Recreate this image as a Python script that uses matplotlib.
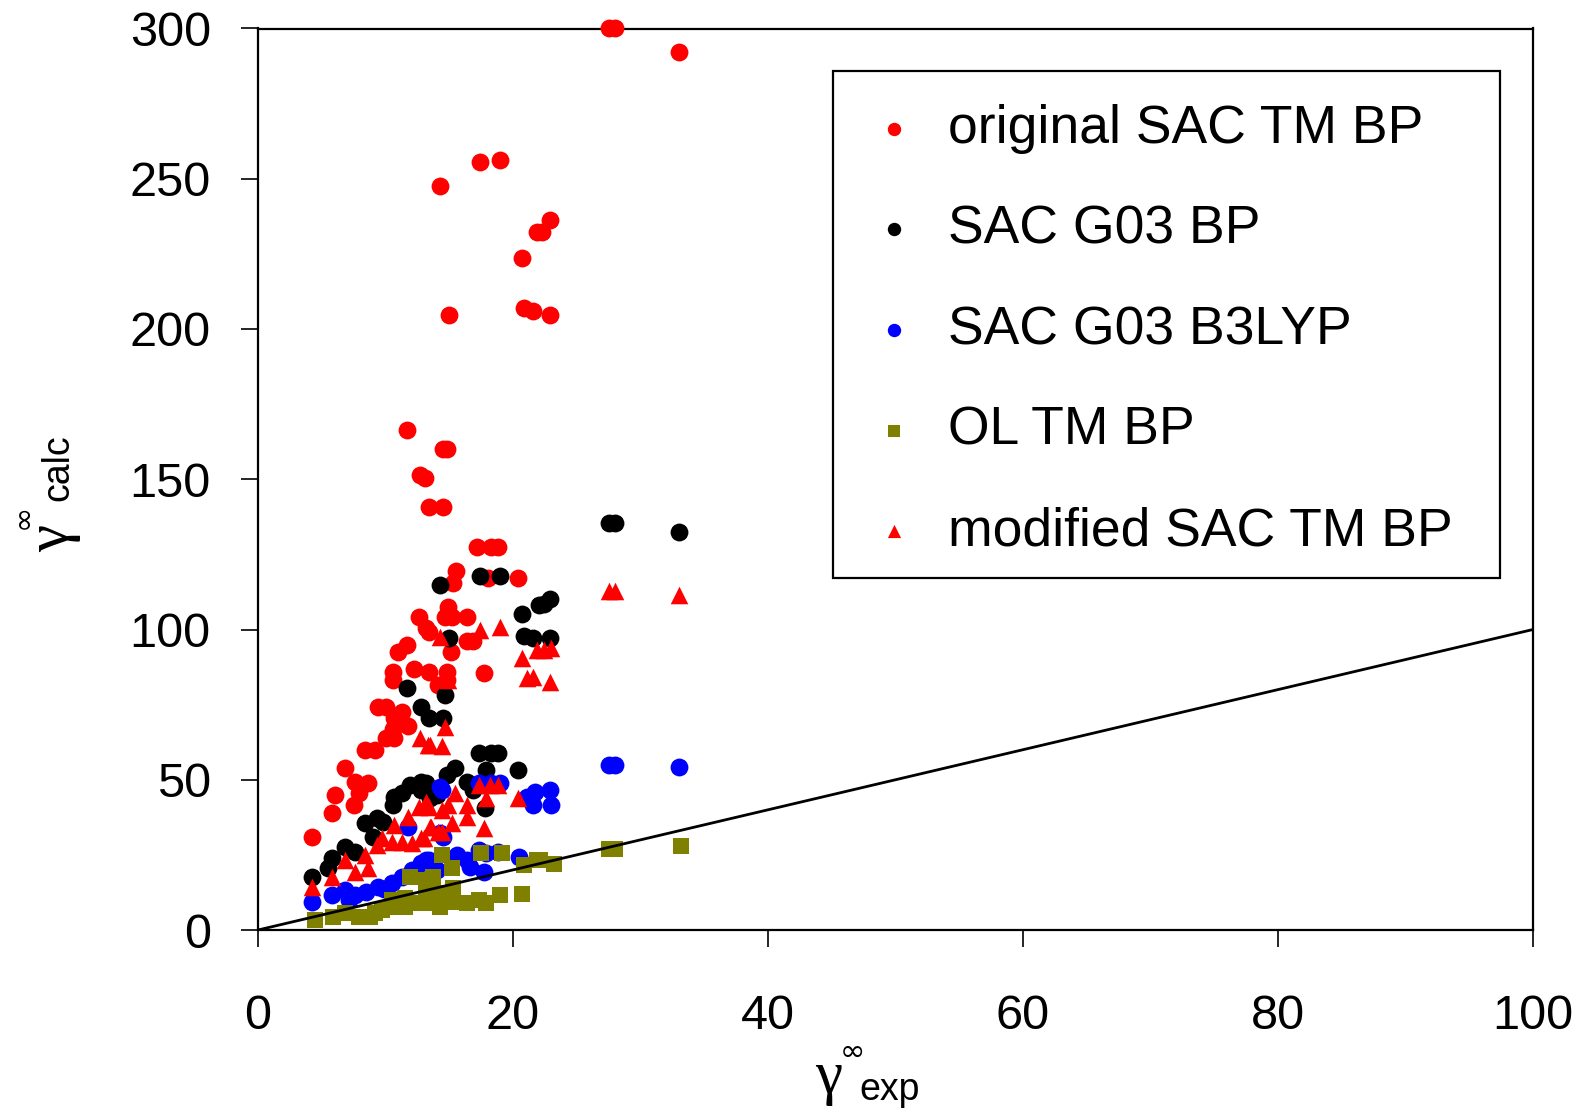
import matplotlib
matplotlib.use("Agg")
import matplotlib.pyplot as plt
from matplotlib.patches import Rectangle

plt.rcParams['font.family'] = ['Liberation Sans', 'DejaVu Sans']

# original SAC TM BP (red circles)
orig_x = [27.5, 28.0, 33.0, 17.4, 19.0, 14.3, 22.9, 21.9, 22.3, 20.7, 15.0, 20.9, 21.6, 22.9,
          11.7, 14.5, 14.8, 12.7, 13.1, 13.4, 14.5, 17.2, 18.3, 18.8, 15.5, 15.3, 18.0, 20.4,
          12.6, 14.9, 14.7, 15.2, 16.4, 13.2, 13.4, 16.4, 16.9, 15.1, 11.0, 11.7,
          10.6, 10.6, 12.2, 13.4, 14.8, 14.8, 17.7, 14.1, 9.4, 10.0, 11.3, 10.7, 11.8, 10.6,
          10.0, 10.7, 8.4, 9.2, 6.8, 7.6, 8.6, 7.9, 6.0, 7.5, 5.8, 4.2]
orig_y = [300, 300, 292.1, 255.5, 256.2, 247.5, 236.4, 232.4, 232.4, 223.7, 204.5, 206.9, 206.0, 204.5,
          166.4, 160.1, 160.1, 151.4, 150.3, 140.9, 140.9, 127.3, 127.3, 127.3, 119.6, 115.4, 117.0, 117.0,
          104.3, 107.6, 104.3, 104.3, 104.3, 100.6, 99.3, 96.3, 96.3, 92.4, 92.6, 94.8,
          86.0, 83.2, 86.7, 86.0, 86.0, 83.2, 85.4, 81.5, 74.3, 74.3, 72.7, 70.4, 67.9, 66.8,
          63.8, 63.8, 59.9, 59.9, 53.8, 49.4, 48.8, 45.5, 44.9, 41.6, 38.8, 31.1]

# SAC G03 BP (black circles)
g03bp_x = [27.5, 28.0, 33.0, 17.4, 19.0, 14.3, 22.9, 22.0, 22.4, 20.7, 20.9, 21.6, 22.9, 15.0,
           11.7, 14.7, 12.8, 13.4, 14.5,
           17.3, 18.3, 18.8, 17.9, 20.4, 15.45, 14.8, 16.4, 16.9, 13.2, 17.8, 13.5, 14.0,
           12.8, 11.9, 11.3, 10.7, 10.6, 12.8,
           8.4, 9.3, 9.8, 9.0, 7.6, 6.8, 5.8, 5.5, 4.2]
g03bp_y = [135.3, 135.3, 132.3, 117.9, 117.9, 114.8, 110.0, 108.2, 108.5, 105.0, 97.8, 97.3, 97.3, 97.1,
           80.4, 78.2, 74.3, 70.4, 70.4,
           58.8, 58.8, 58.8, 53.2, 53.2, 53.8, 51.6, 49.4, 46.6, 48.8, 40.5, 43.8, 44.9,
           49.4, 48.3, 45.5, 44.4, 41.6, 46.6,
           35.5, 37.2, 36.0, 31.1, 26.1, 27.7, 23.9, 20.5, 17.7]

# SAC G03 B3LYP (blue circles)
g03b3_x = [27.5, 28.0, 33.0, 14.3, 19.0, 17.3, 18.3, 21.1, 21.7, 22.9, 23.0, 21.6, 14.5,
           13.2, 13.7, 15.6, 16.4, 17.3, 17.9, 18.8, 17.7, 20.5, 16.6,
           4.2, 5.8, 6.8, 7.6, 8.5, 9.4, 10.5, 11.3, 12.1, 12.8, 13.4, 11.8, 14.3, 14.4,
           14.0, 7.1, 9.9]
g03b3_y = [54.9, 54.9, 54.1, 47.7, 48.8, 49.0, 49.0, 44.4, 46.0, 46.6, 41.6, 41.6, 31.0,
           23.3, 21.6, 25.0, 23.3, 26.6, 25.5, 26.0, 19.4, 24.4, 21.1,
           9.4, 11.6, 13.3, 11.6, 12.7, 14.4, 15.5, 17.7, 20.0, 22.2, 23.3, 34.4, 32.2, 46.6,
           20.0, 10.0, 13.5]

# OL TM BP (olive squares)
ol_x = [27.5, 28.0, 33.2, 21.9, 23.2, 20.9, 20.7, 14.4, 17.5, 19.1, 15.2, 13.75, 13.2, 22.1,
        13.2, 14.3, 15.3, 16.4, 17.3, 17.9, 19.0, 13.2, 15.3,
        4.5, 5.9, 6.8, 7.9, 8.8, 9.7, 10.7, 11.5, 12.6, 13.6, 14.4, 11.9, 10.5, 11.5, 9.2]
ol_y = [26.9, 26.9, 27.9, 23.3, 21.8, 21.6, 12.0, 25.0, 25.5, 25.5, 20.5, 17.7, 16.6, 23.3,
        8.9, 7.8, 9.4, 8.9, 10.0, 8.9, 11.6, 12.7, 13.9,
        3.3, 4.4, 5.5, 4.4, 4.4, 6.7, 7.8, 7.8, 8.9, 10.5, 12.2, 17.7, 10.0, 10.5, 5.5]

# modified SAC TM BP (red triangles)
mod_x = [27.5, 28.0, 33.0, 21.9, 22.4, 23.0, 20.7, 14.3, 17.4, 19.0, 21.1, 21.6, 22.9, 14.9,
         14.7, 12.7, 13.3, 14.4, 13.5,
         17.3, 18.2, 18.8, 17.9, 20.4, 15.45, 14.9, 16.4, 16.4, 15.2, 14.4, 13.5, 17.7, 13.0, 13.2,
         4.2, 5.8, 6.8, 7.6, 8.4, 8.65, 9.3, 9.7, 10.5, 11.3, 10.7, 11.8, 12.6, 13.4, 12.05,
         12.8, 13.6, 14.1, 14.4]
mod_y = [112.9, 112.9, 111.5, 93.2, 93.2, 93.7, 90.4, 97.6, 100.0, 100.9, 83.8, 84.3, 82.6, 83.2,
         67.7, 63.8, 61.6, 61.2, 61.6,
         48.3, 48.3, 48.3, 43.8, 43.8, 45.5, 41.6, 41.6, 37.7, 35.5, 32.7, 34.4, 33.8, 30.5, 42.7,
         14.4, 17.7, 23.3, 19.4, 25.0, 20.5, 28.3, 30.5, 29.4, 29.4, 34.9, 37.7, 41.0, 41.0, 28.8,
         30.5, 34.4, 32.7, 39.9]

W, H = 1585, 1114
fig = plt.figure(figsize=(W / 100, H / 100), dpi=100)
ax = fig.add_axes([258 / W, 1 - 930 / H, (1533 - 258) / W, (930 - 28.5) / H])

ax.scatter(orig_x, orig_y, s=165, marker='o', color='#ff0000', linewidths=0,
           label='original SAC TM BP', clip_on=False, zorder=3)
ax.scatter(g03bp_x, g03bp_y, s=165, marker='o', color='black', linewidths=0,
           label='SAC G03 BP', clip_on=False, zorder=3)
ax.scatter(g03b3_x, g03b3_y, s=165, marker='o', color='#0000ff', linewidths=0,
           label='SAC G03 B3LYP', clip_on=False, zorder=3)
ax.scatter(ol_x, ol_y, s=125, marker='s', color='#808000', linewidths=0,
           label='OL TM BP', clip_on=False, zorder=3)
ax.scatter(mod_x, mod_y, s=160, marker='^', color='#ff0000', linewidths=0,
           label='modified SAC TM BP', clip_on=False, zorder=3)

# parity line
ax.plot([0, 100], [0, 100], color='black', lw=2, zorder=4)

ax.set_xlim(0, 100)
ax.set_ylim(0, 300)
ax.set_xticks([0, 20, 40, 60, 80, 100])
ax.set_yticks([0, 50, 100, 150, 200, 250, 300])
for sp in ax.spines.values():
    sp.set_linewidth(1.6)
ax.tick_params(axis='x', direction='out', length=12, width=1.2, labelsize=35, pad=34)
ax.tick_params(axis='y', direction='out', length=12, width=1.2, labelsize=35, pad=22)

leg = ax.legend(loc='upper left', bbox_to_anchor=(857 / W, 1 - 104 / H),
                bbox_transform=fig.transFigure, fontsize=38.5, frameon=False,
                markerscale=0.75, borderpad=0, labelspacing=0.945, handlelength=1.4,
                handletextpad=0.3, borderaxespad=0)
# legend box
fig.patches.append(Rectangle((833 / W, 1 - 578 / H), (1500 - 833) / W, (578 - 71) / H,
                             transform=fig.transFigure, fill=False, edgecolor='black',
                             linewidth=1.6, zorder=5))

# axis labels built from pieces
fig.text(829 / W, 1 - 1078 / H, '\u03b3', fontsize=44, family='Liberation Serif',
         ha='center', va='center')
fig.text(852 / W, 1 - 1052 / H, '\u221e', fontsize=22, family='DejaVu Sans',
         ha='center', va='center')
fig.text(890 / W, 1 - 1090 / H, 'exp', fontsize=27, ha='center', va='center')

fig.text(53 / W, 1 - 538 / H, '\u03b3', fontsize=44, family='Liberation Serif',
         ha='center', va='center', rotation=90)
fig.text(23 / W, 1 - 516 / H, '\u221e', fontsize=22, family='DejaVu Sans',
         ha='center', va='center', rotation=90)
fig.text(58 / W, 1 - 468 / H, 'calc', fontsize=27, ha='center', va='center', rotation=90)

fig.savefig('out.png', dpi=100)
